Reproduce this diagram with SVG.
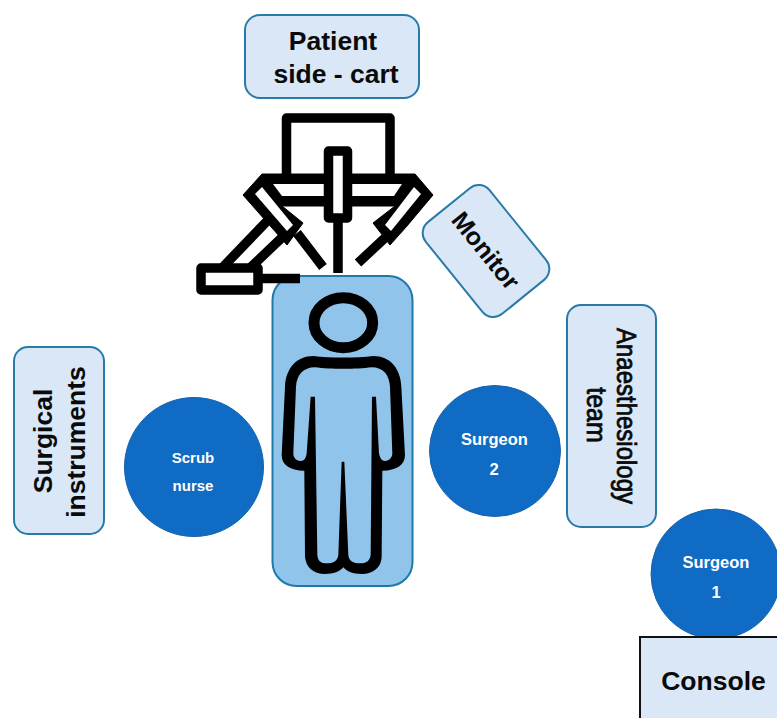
<svg xmlns="http://www.w3.org/2000/svg" width="777" height="718" viewBox="0 0 777 718">
<style>
text{font-family:"Liberation Sans",Arial,sans-serif;text-anchor:middle}
.box{fill:#d9e7f6;stroke:#2a7aa8;stroke-width:2}
.lbl{font-size:26.500px;font-weight:bold;fill:#0a0a0a}
.reg{font-size:24px;font-weight:normal;fill:#0a0a0a;stroke:#0a0a0a;stroke-width:.7}
.circ{fill:#106bc4;stroke:#1763ad;stroke-width:1}
.cl{font-size:15px;font-weight:bold;fill:#fff}
.cl2{font-size:16.500px;font-weight:bold;fill:#fff}
.ink{fill:none;stroke:#000;stroke-width:9.500;stroke-linejoin:round}
.w{fill:#fff}
</style>
<rect width="777" height="718" fill="#fff"/>
<g id="patient-side-cart"><rect class="box" x="245" y="15" width="174" height="83" rx="15"/>
<text class="lbl" x="333" y="50">Patient</text><text class="lbl" x="336" y="83">side - cart</text></g>
<g id="table"><rect x="272.500" y="276" width="140" height="310" rx="24" fill="#90c4ea" stroke="#1f79a8" stroke-width="2"/></g>
<g id="robot">
<path class="ink" d="M286.500 178V118H390V178"/>
<path class="ink" d="M222 268L272 216M250 268L292 228"/>
<path d="M262 174H415L433 195L407 226L390 245L373 223L395 206H282L303 223L287 245L243 195Z" fill="#000" stroke="#000" stroke-width="1" stroke-linejoin="round"/>
<path class="w" d="M273 184H402L394 196H282Z"/>
<path class="w" d="M255 194L262 187L293 225L287 231Z"/>
<path class="w" d="M421 194L414 187L385 225L391 231Z"/>
<path class="ink" d="M297 233L323 267M338 220V273M387 236L358 263"/>
<rect x="328.500" y="151" width="19" height="67" class="w" stroke="#000" stroke-width="9.500" stroke-linejoin="round"/>
<rect x="201" y="268" width="57" height="22" class="w" stroke="#000" stroke-width="9.500" stroke-linejoin="round"/>
<path class="ink" d="M260 278.500H300" stroke-linejoin="miter"/>
</g>
<g id="person" transform="translate(270 280) scale(.3333)">
<ellipse cx="220" cy="128" rx="88" ry="75" fill="none" stroke="#000" stroke-width="33"/>
<path fill="#000" d="M130 228C180 234 260 234 310 228C360 228 392 265 394 320L405 525C405 555 380 572 337 572L335 830C335 860 310 882 275 882C250 882 230 875 220 862C210 875 190 882 165 882C130 882 107 860 105 830L103 572C60 572 35 555 35 525L45 320C47 265 80 228 130 228Z"/>
<path fill="#90c4ea" d="M135 262C180 268 260 268 305 262C340 262 358 285 360 320L367 520C367 535 355 543 345 543C335 543 330 535 327 520L318 350H306L302 825C300 843 288 850 270 850C250 850 236 843 235 825L223 545H215L205 825C203 843 190 850 170 850C153 850 143 843 142 825L135 350H122L110 520C108 535 103 543 92 543C80 543 70 535 70 520L78 320C80 285 100 262 135 262Z"/>
</g>
<g id="monitor"><rect class="box" x="-59" y="-41" width="118" height="82" rx="14" transform="translate(486 251) rotate(51)"/>
<text class="lbl" style="font-size:25px" transform="translate(479 256) rotate(51)">Monitor</text></g>
<g id="anaesthesiology-team"><rect class="box" x="567" y="305" width="89" height="222" rx="14"/>
<text class="reg" transform="translate(617 416) rotate(90) scale(1 1.15)">Anaesthesiology</text>
<text class="reg" transform="translate(587 415) rotate(90) scale(1.04 1.15)">team</text></g>
<g id="surgical-instruments"><rect class="box" x="14" y="347" width="90" height="187" rx="14"/>
<text class="lbl" transform="translate(52 441) rotate(-90)">Surgical</text>
<text class="lbl" transform="translate(85 442) rotate(-90)">instruments</text></g>
<g id="scrub-nurse"><circle class="circ" cx="194" cy="467" r="69.500"/>
<text class="cl" x="193" y="463">Scrub</text><text class="cl" x="193" y="491">nurse</text></g>
<g id="surgeon-2"><circle class="circ" cx="495" cy="451" r="65.500"/>
<text class="cl2" x="494.500" y="445">Surgeon</text><text class="cl2" x="494" y="475">2</text></g>
<g id="surgeon-1"><circle class="circ" cx="716" cy="574" r="65"/>
<text class="cl2" x="716" y="568">Surgeon</text><text class="cl2" x="716" y="598">1</text></g>
<g id="console"><rect x="640" y="637" width="139" height="85" fill="#d9e7f6" stroke="#111" stroke-width="2"/>
<text class="lbl" x="713.500" y="690">Console</text></g>
<g id="connectors"/>
</svg>
